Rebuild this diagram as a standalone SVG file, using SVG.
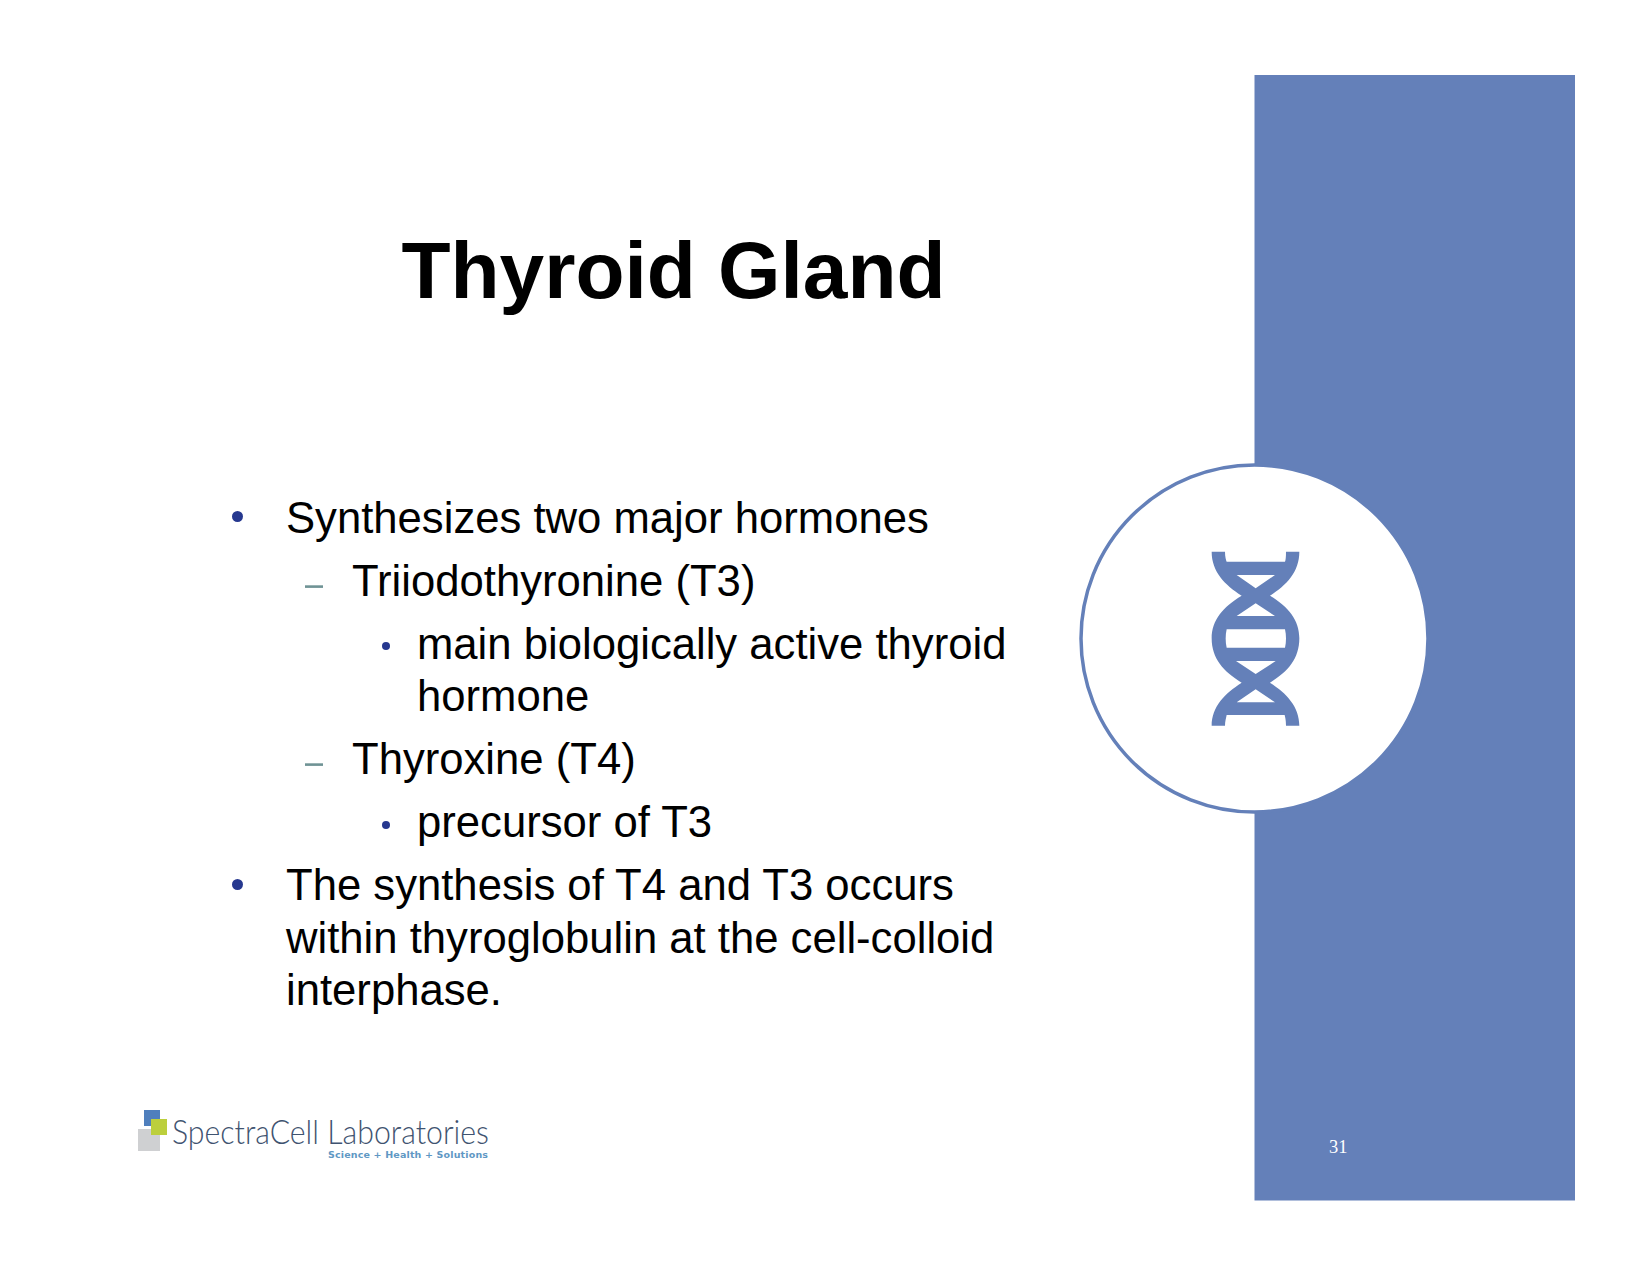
<svg xmlns="http://www.w3.org/2000/svg" width="1650" height="1275" viewBox="0 0 1650 1275">
<style>
text{font-family:"Liberation Sans",Arial,sans-serif}
.b{font-size:43.65px;fill:#000}
.d1{fill:#26388f}
.dash{fill:#6f9395}
</style>
<rect width="1650" height="1275" fill="#fff"/>
<g id="panel"><rect x="1254.5" y="75" width="320.5" height="1125.500" fill="#6480b9"/></g>
<g id="circle"><circle cx="1254.500" cy="638.500" r="173.500" fill="#fff" stroke="#6480b9" stroke-width="3.500"/></g>
<g id="dna" transform="translate(1180 530) scale(.33333)">
<path fill="#6480b9" fill-rule="evenodd" d="M95 65H135C135 80 138 90 140 95H315C317 90 318 80 318 65H358C358 125 320 165 270 197C325 230 358 270 358 325C358 385 325 425 270 458C320 490 358 530 358 587H318C318 570 316 565 314 555H140C138 565 135 575 135 587H95C95 530 135 490 185 458C130 425 95 385 95 325C95 270 130 230 185 197C135 165 95 125 95 65ZM170 135H285L227 175ZM227 220L285 258H170ZM140 298H315C319 315 319 336 315 353H140C136 336 136 315 140 298ZM168 393H287L227 432ZM227 478L285 517H170Z"/>
</g>
<g id="title"><text x="673.500" y="298" text-anchor="middle" font-size="80.300" font-weight="700" fill="#000">Thyroid Gland</text></g>
<g id="body">
<circle class="d1" cx="237.500" cy="516.500" r="5.500"/>
<text class="b" x="286" y="533">Synthesizes two major hormones</text>
<rect class="dash" x="305" y="585.300" width="18" height="2.600"/>
<text class="b" x="352" y="596">Triiodothyronine (T3)</text>
<circle class="d1" cx="386" cy="646" r="4"/>
<text class="b" x="417" y="659">main biologically active thyroid</text>
<text class="b" x="417" y="711">hormone</text>
<rect class="dash" x="305" y="763.300" width="18" height="2.600"/>
<text class="b" x="352" y="774">Thyroxine (T4)</text>
<circle class="d1" cx="386" cy="825" r="4"/>
<text class="b" x="417" y="837">precursor of T3</text>
<circle class="d1" cx="237.500" cy="884.500" r="5.500"/>
<text class="b" x="286" y="900">The synthesis of T4 and T3 occurs</text>
<text class="b" x="286" y="953">within thyroglobulin at the cell-colloid</text>
<text class="b" x="286" y="1005">interphase.</text>
</g>
<g id="logo">
<rect x="144" y="1110" width="16" height="16" fill="#4f7fbd"/>
<rect x="138" y="1129" width="22" height="22" fill="#cfd0d2"/>
<rect x="151" y="1119" width="16" height="16" fill="#bccf3c"/>
<text x="172" y="1144" font-size="33" textLength="317" lengthAdjust="spacingAndGlyphs" style="font-family:Lato,'Liberation Sans',sans-serif;font-weight:300" fill="#3f5370">SpectraCell Laboratories</text>
<text x="328" y="1158" font-size="9.500" textLength="160" style="font-family:'DejaVu Sans',sans-serif;font-weight:700" fill="#5f98c4">Science + Health + Solutions</text>
</g>
<g id="page"><text x="1329" y="1153" font-size="18.500" style="font-family:'Liberation Serif',serif" fill="#fff">31</text></g>
</svg>
